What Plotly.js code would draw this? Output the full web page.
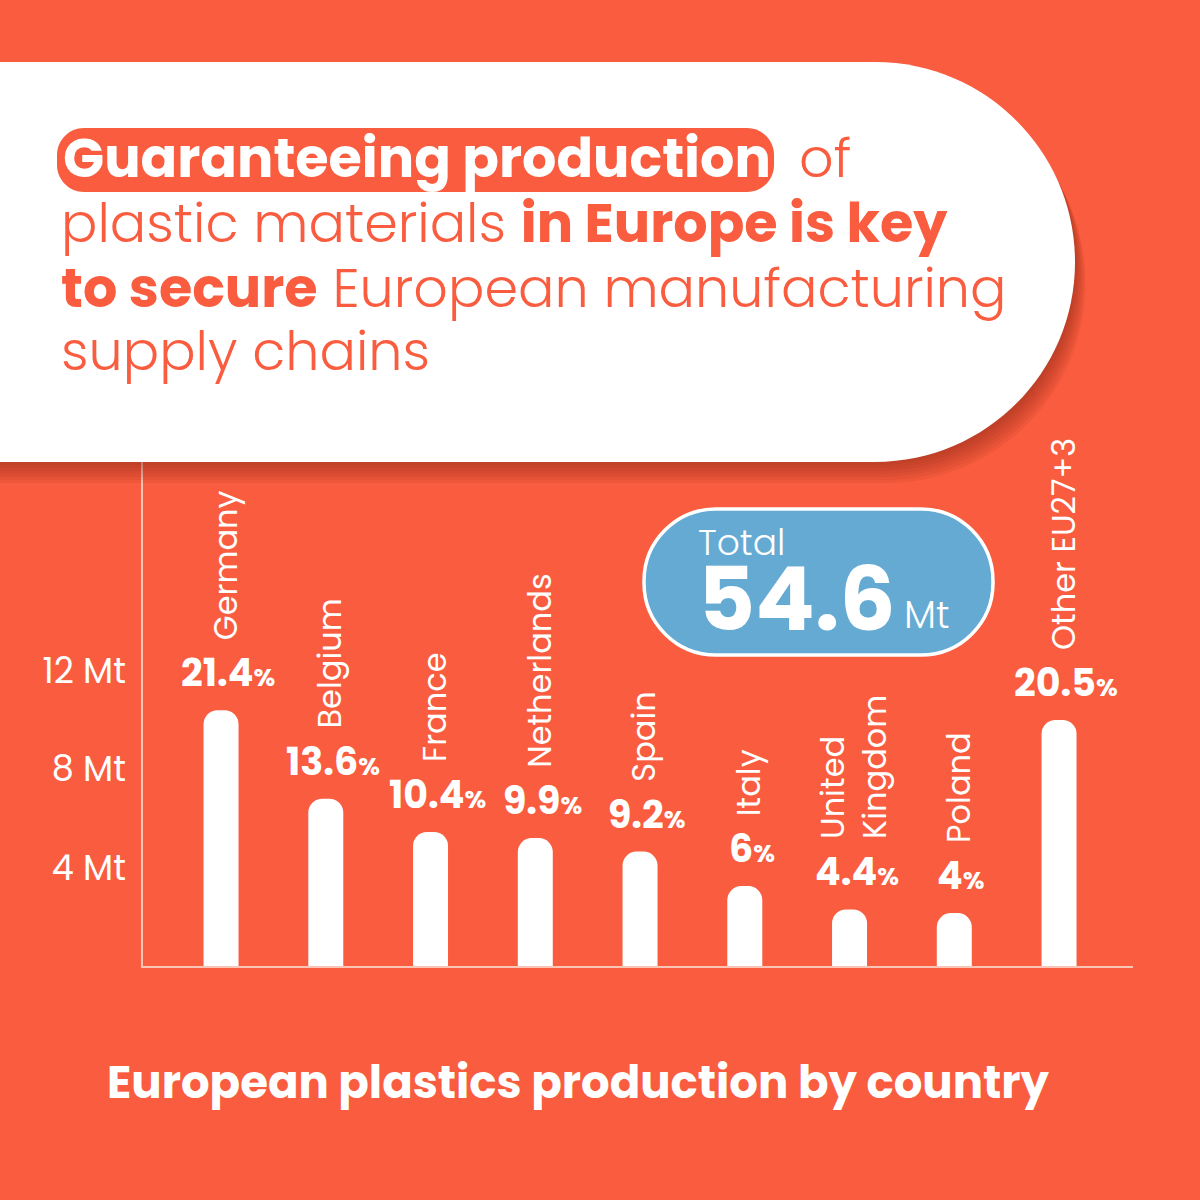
<!DOCTYPE html>
<html>
<head>
<meta charset="utf-8">
<script src="https://cdn.plot.ly/plotly-3.0.1.min.js"></script>
<style>
  html, body { margin: 0; padding: 0; background: #F95C3E; }
  #chart { width: 1200px; height: 1200px; }
</style>
</head>
<body>
<div id="chart"></div>
<script>
// ---- data ----
const countries = ['Germany', 'Belgium', 'France', 'Netherlands', 'Spain', 'Italy', 'United Kingdom', 'Poland', 'Other EU27+3'];
const countryLabels = ['Germany', 'Belgium', 'France', 'Netherlands', 'Spain', 'Italy', 'United<br>Kingdom', 'Poland', 'Other EU27+3'];
const productionMt = [10.4, 6.8, 5.45, 5.2, 4.65, 3.25, 2.3, 2.15, 10.0];
const sharePct = ['21.4', '13.6', '10.4', '9.9', '9.2', '6', '4.4', '4', '20.5'];
const yTickVals = [4, 8, 12];
const yTickText = ['4 Mt', '8 Mt', '12 Mt'];
const totalMt = '54.6';
const totalUnit = 'Mt';
const chartTitle = 'European plastics production by country';

// ---- styling ----
const BG = '#F95C3E';
const ORANGE = '#F95C3E';
const BLUE = '#65AAD3';
const FONT = 'Poppins, "Open Sans", sans-serif';

const X = px => px / 1200;
const Y = py => 1 - py / 1200;

function roundRect(x0, y0, x1, y1, r) {
  const k = 0.5523 * r;
  return `M ${X(x0 + r)},${Y(y0)} L ${X(x1 - r)},${Y(y0)} ` +
    `C ${X(x1 - r + k)},${Y(y0)} ${X(x1)},${Y(y0 + r - k)} ${X(x1)},${Y(y0 + r)} ` +
    `L ${X(x1)},${Y(y1 - r)} ` +
    `C ${X(x1)},${Y(y1 - r + k)} ${X(x1 - r + k)},${Y(y1)} ${X(x1 - r)},${Y(y1)} ` +
    `L ${X(x0 + r)},${Y(y1)} ` +
    `C ${X(x0 + r - k)},${Y(y1)} ${X(x0)},${Y(y1 - r + k)} ${X(x0)},${Y(y1 - r)} ` +
    `L ${X(x0)},${Y(y0 + r)} ` +
    `C ${X(x0)},${Y(y0 + r - k)} ${X(x0 + r - k)},${Y(y0)} ${X(x0 + r)},${Y(y0)} Z`;
}

function headerPath(dx, dy) {
  const cx = 875 + dx, top = 62 + dy, bot = 462 + dy, r = 200, k = 0.5523 * r;
  const midY = (top + bot) / 2;
  return `M ${X(-20)},${Y(top)} L ${X(cx)},${Y(top)} ` +
    `C ${X(cx + k)},${Y(top)} ${X(cx + r)},${Y(midY - k)} ${X(cx + r)},${Y(midY)} ` +
    `C ${X(cx + r)},${Y(midY + k)} ${X(cx + k)},${Y(bot)} ${X(cx)},${Y(bot)} ` +
    `L ${X(-20)},${Y(bot)} Z`;
}

const shapes = [];
// soft shadow under the header card
for (let i = 1; i <= 7; i++) {
  shapes.push({type: 'path', xref: 'paper', yref: 'paper', path: headerPath(i * 1.5, i * 3),
    fillcolor: 'rgba(110,25,10,0.07)', line: {width: 0}, layer: 'above'});
}
shapes.push({type: 'path', xref: 'paper', yref: 'paper', path: headerPath(0, 0),
  fillcolor: '#FFFFFF', line: {width: 0}, layer: 'above'});
// highlight pill
shapes.push({type: 'path', xref: 'paper', yref: 'paper', path: roundRect(57, 128, 774, 192, 27),
  fillcolor: ORANGE, line: {width: 0}, layer: 'above'});
// total pill
shapes.push({type: 'path', xref: 'paper', yref: 'paper', path: roundRect(644, 509, 993, 655, 72),
  fillcolor: BLUE, line: {width: 3.5, color: '#FFFFFF'}, layer: 'above'});

const annotations = [];
// header text
const headLines = [
  {x: 61, y: 158, text: '<b>Guaranteeing production</b>', color: '#FFFFFF'},
  {x: 797, y: 158, text: 'of', color: ORANGE},
  {x: 59, y: 223, text: 'plastic materials <b>in Europe is key</b>', color: ORANGE},
  {x: 59, y: 288, text: '<b>to secure</b> European manufacturing', color: ORANGE},
  {x: 59, y: 351, text: 'supply chains', color: ORANGE}
];
headLines.forEach(l => annotations.push({
  xref: 'paper', yref: 'paper', x: X(l.x), y: Y(l.y), xanchor: 'left', yanchor: 'middle',
  text: l.text, showarrow: false, font: {family: FONT, size: 54, color: l.color, weight: 300}
}));

// total box text
annotations.push({xref: 'paper', yref: 'paper', x: X(696), y: Y(542), xanchor: 'left', yanchor: 'middle',
  text: 'Total', showarrow: false, font: {family: FONT, size: 36, color: '#FFFFFF', weight: 300}});
annotations.push({xref: 'paper', yref: 'paper', x: X(696), y: Y(599), xanchor: 'left', yanchor: 'middle',
  text: '<b>' + totalMt + '</b>', showarrow: false, font: {family: FONT, size: 88, color: '#FFFFFF'}});
annotations.push({xref: 'paper', yref: 'paper', x: X(902), y: Y(614), xanchor: 'left', yanchor: 'middle',
  text: totalUnit, showarrow: false, font: {family: FONT, size: 38, color: '#FFFFFF', weight: 300}});

// bar labels
countries.forEach((c, i) => {
  annotations.push({
    x: c, y: productionMt[i], xref: 'x', yref: 'y', xanchor: 'center', yanchor: 'bottom',
    xshift: 7, yshift: 9, showarrow: false,
    text: '<b>' + sharePct[i] + '</b><span style="font-size:25px"><b>%</b></span>',
    font: {family: FONT, size: 38, color: '#FFFFFF'}
  });
  annotations.push({
    x: c, y: productionMt[i], xref: 'x', yref: 'y', xanchor: 'center', yanchor: 'bottom',
    xshift: 4, yshift: 68, showarrow: false, textangle: -90, align: 'left',
    text: countryLabels[i],
    font: {family: FONT, size: 32, color: '#FFFFFF'}
  });
});

// bottom title
annotations.push({xref: 'paper', yref: 'paper', x: X(578), y: Y(1082), xanchor: 'center', yanchor: 'middle',
  text: '<b>' + chartTitle + '</b>', showarrow: false, font: {family: FONT, size: 45, color: '#FFFFFF'}});

const trace = {
  type: 'bar', x: countries, y: productionMt, width: 0.334,
  marker: {color: '#FFFFFF', cornerradius: 14, line: {width: 0}},
  hoverinfo: 'skip'
};

const layout = {
  width: 1200, height: 1200,
  margin: {l: 0, r: 0, t: 0, b: 0},
  paper_bgcolor: BG, plot_bgcolor: 'rgba(0,0,0,0)',
  showlegend: false,
  xaxis: {
    domain: [X(143), X(1133)], range: [-0.745, 8.706], type: 'category',
    showticklabels: false, showgrid: false, zeroline: false, ticks: '',
    showline: true, linecolor: 'rgba(250,215,205,0.85)', linewidth: 2
  },
  yaxis: {
    domain: [Y(966), Y(440)], range: [0, (966 - 440) / 24.6],
    tickvals: yTickVals, ticktext: yTickText, ticks: '', ticklabelstandoff: 8,
    tickfont: {family: FONT, size: 35, color: '#FFFFFF'},
    showgrid: false, zeroline: false,
    showline: true, linecolor: 'rgba(250,215,205,0.85)', linewidth: 2
  },
  shapes: shapes,
  annotations: annotations
};

Plotly.newPlot('chart', [trace], layout, {staticPlot: true, displayModeBar: false});
</script>
</body>
</html>
